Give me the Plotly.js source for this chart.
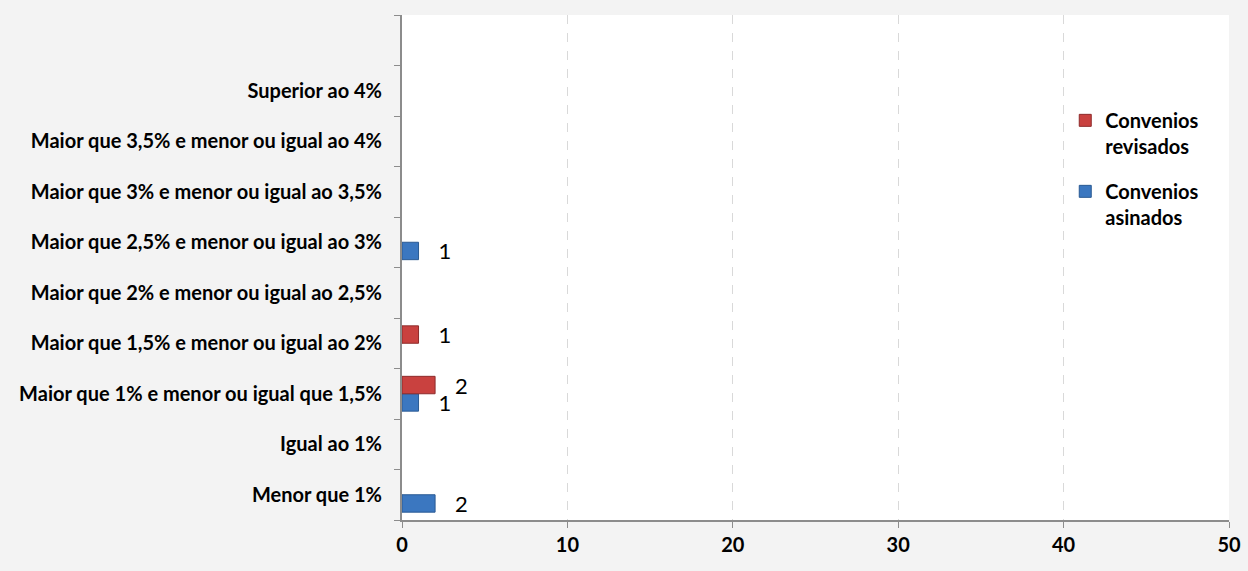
<!DOCTYPE html>
<html>
<head>
<meta charset="utf-8">
<script src="https://cdn.plot.ly/plotly-3.0.1.min.js"></script>
<style>html,body{margin:0;padding:0;background:#f3f3f3;}#chart{width:1248px;height:571px;}</style>
</head>
<body>
<div id="chart"></div>
<script>
const categories = [
  "Menor que 1%",
  "Igual ao 1%",
  "Maior que 1% e menor ou igual que 1,5%",
  "Maior que 1,5% e menor ou igual ao 2%",
  "Maior que 2% e menor ou igual ao 2,5%",
  "Maior que 2,5% e menor ou igual ao 3%",
  "Maior que 3% e menor ou igual ao 3,5%",
  "Maior que 3,5% e menor ou igual ao 4%",
  "Superior ao 4%",
  " "
];
const asinados = [2, null, 1, null, null, 1, null, null, null, null];
const revisados = [null, null, 2, 1, null, null, null, null, null, null];
const seriesNames = ["Convenios<br>asinados", "Convenios<br>revisados"];
const xTicks = [0, 10, 20, 30, 40, 50];

const font = "Lato, 'Open Sans', sans-serif";

const traces = [
  {
    type: "bar", orientation: "h", name: seriesNames[0], legendgroup: "a", legendrank: 2,
    y: categories, x: asinados,
    marker: {color: "#3b77c0", line: {color: "#2a5a93", width: 1}},
    text: asinados.map(v => v == null ? "" : String(v)),
    texttemplate: "   %{text}",
    textposition: "outside", cliponaxis: false, constraintext: "none",
    textfont: {family: font, size: 22, color: "#000"}
  },
  {
    type: "bar", orientation: "h", name: seriesNames[1], legendgroup: "r", legendrank: 1,
    y: categories, x: revisados,
    marker: {color: "#c9413f", line: {color: "#8e2b2b", width: 1}},
    text: revisados.map(v => v == null ? "" : String(v)),
    texttemplate: "   %{text}",
    textposition: "outside", cliponaxis: false, constraintext: "none",
    textfont: {family: font, size: 22, color: "#000"}
  }
];

const layout = {
  width: 1248, height: 571,
  paper_bgcolor: "#f3f3f3", plot_bgcolor: "#ffffff",
  margin: {l: 402, r: 19, t: 15, b: 51},
  barmode: "group", bargap: 0.31, bargroupgap: 0,
  showlegend: true,
  legend: {
    x: 0.802, y: 0.83, xanchor: "left", yanchor: "top",
    traceorder: "grouped", bgcolor: "rgba(0,0,0,0)",
    font: {family: font, size: 20, color: "#000", weight: "bold"},
    itemwidth: 30, tracegroupgap: 16, valign: "top"
  },
  xaxis: {
    range: [0, 50], tickvals: xTicks, ticktext: xTicks.map(String),
    showgrid: true, gridcolor: "#d9d9d9", griddash: "dash", gridwidth: 1,
    zeroline: false, showline: true, linecolor: "#8c8c8c", linewidth: 2,
    ticks: "outside", ticklen: 6, tickcolor: "#8c8c8c",
    tickfont: {family: font, size: 20, color: "#000", weight: "bold"},
    ticklabelstandoff: 0, fixedrange: true
  },
  yaxis: {
    type: "category", categoryorder: "array", categoryarray: categories,
    range: [-0.5, 9.5], tickson: "boundaries",
    showgrid: false, zeroline: false, showline: true, linecolor: "#8c8c8c", linewidth: 2,
    ticks: "outside", ticklen: 6, tickcolor: "#8c8c8c",
    tickfont: {family: font, size: 20, color: "#000", weight: "bold"},
    ticklabelstandoff: 14, fixedrange: true
  }
};

Plotly.newPlot("chart", traces, layout, {displayModeBar: false, staticPlot: true});
</script>
</body>
</html>
